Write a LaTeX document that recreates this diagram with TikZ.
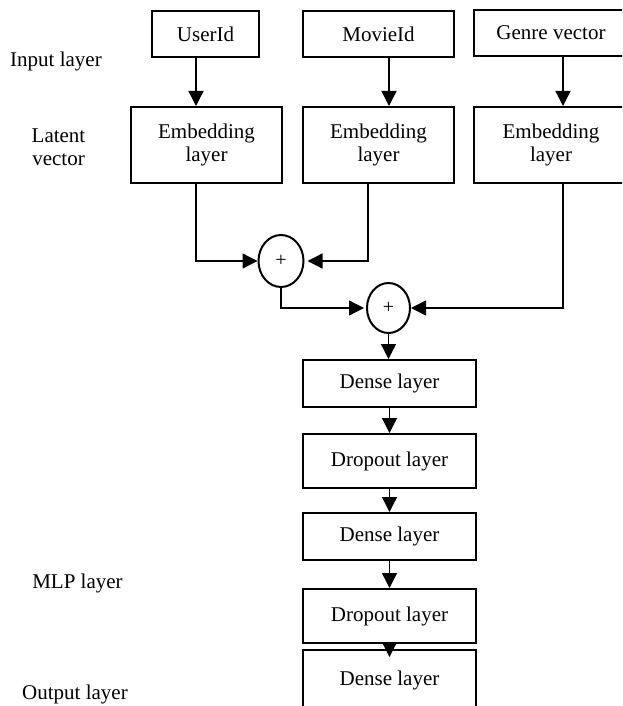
\documentclass[tikz,border=0pt]{standalone}
\usepackage{fontspec}
\setmainfont{Liberation Serif}
\usetikzlibrary{arrows.meta,shapes.geometric}
\begin{document}
\begin{tikzpicture}[x=1pt,y=-1pt,
  layerbox/.style={draw,line width=2pt,inner sep=0pt,align=center,
    font=\fontsize{21}{23}\selectfont},
  sumnode/.style={draw,ellipse,line width=2pt,inner sep=0pt,
    minimum width=45pt,minimum height=52pt,font=\fontsize{20}{22}\selectfont},
  conn/.style={line width=1.3pt,-{Triangle[length=15pt,width=15pt]}},
  sidelabel/.style={align=center,inner sep=0pt,font=\fontsize{21}{23}\selectfont},
]
\useasboundingbox (0,0) rectangle (622,706);
\clip (0,0) rectangle (622,706);

% input boxes
\node[layerbox,minimum width=107pt,minimum height=46pt] (uid) at (205.5,34) {UserId};
\node[layerbox,minimum width=151pt,minimum height=46pt] (mid) at (378.5,34) {MovieId};
\node[layerbox,minimum width=154pt,minimum height=46pt] (gen) at (551,33) {Genre vector};

% embedding boxes
\node[layerbox,minimum width=151pt,minimum height=76pt] (emb1) at (206.5,145) {Embedding\\layer};
\node[layerbox,minimum width=151pt,minimum height=76pt] (emb2) at (378.5,145) {Embedding\\layer};
\node[layerbox,minimum width=154pt,minimum height=76pt] (emb3) at (551,145) {Embedding\\layer};

% summation nodes
\node[sumnode] (s1) at (281,261) {+};
\node[sumnode,minimum width=43pt,minimum height=50pt] (s2) at (388.5,308) {+};

% MLP stack
\node[layerbox,minimum width=173pt,minimum height=47pt] (d1) at (389.5,383.5) {Dense layer};
\node[layerbox,minimum width=173pt,minimum height=54pt] (dr1) at (389.5,461) {Dropout layer};
\node[layerbox,minimum width=173pt,minimum height=47pt] (d2) at (389.5,536.5) {Dense layer};
\node[layerbox,minimum width=173pt,minimum height=54pt] (dr2) at (389.5,616) {Dropout layer};
\node[layerbox,minimum width=173pt,minimum height=60pt] (d3) at (389.5,680) {Dense layer};
% the last arrow tip runs a little past the top edge of the output box
\coordinate (d3tip) at ([yshift=-8pt]d3.north);

% side labels
\node[sidelabel] (lin) at (56,61) {Input layer};
\node[sidelabel] (llat) at (58.5,147) {Latent\\vector};
\node[sidelabel] (lmlp) at (77.5,583) {MLP layer};
\node[sidelabel] (lout) at (75,694) {Output layer};

% connectors
\draw[conn] ([xshift=-9.5pt]uid.south) -- ([xshift=-9.5pt]uid.south |- emb1.north);
\draw[conn] ([xshift=10.5pt]mid.south) -- ([xshift=10.5pt]mid.south |- emb2.north);
\draw[conn] ([xshift=12pt]gen.south) -- ([xshift=12pt]gen.south |- emb3.north);

\draw[conn] ([xshift=-10.5pt]emb1.south) |- (s1.west);
\draw[conn,shorten >=3pt] ([xshift=-10.5pt]emb2.south) |- (s1.east);
\draw[conn] ([xshift=12pt]emb3.south) |- (s2.east);
\draw[conn,shorten >=2pt] (s1.south) |- (s2.west);
\draw[conn] (s2.south) -- (s2.south |- d1.north);

\draw[conn] (d1.south) -- (dr1.north);
\draw[conn] (dr1.south) -- (d2.north);
\draw[conn] (d2.south) -- (dr2.north);
\draw[conn] (dr2.south) -- (d3tip);
\end{tikzpicture}
\end{document}
